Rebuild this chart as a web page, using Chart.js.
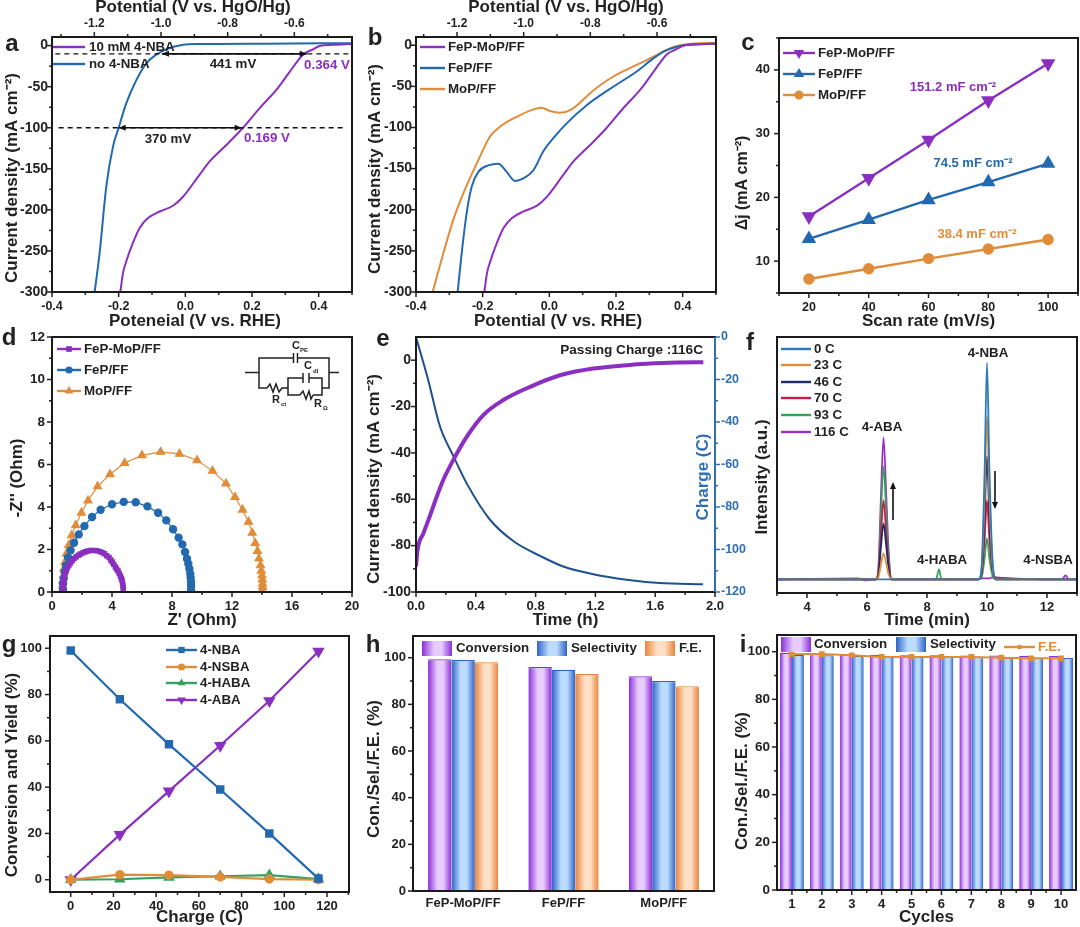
<!DOCTYPE html>
<html>
<head>
<meta charset="utf-8">
<script src="https://cdn.jsdelivr.net/npm/chart.js@4"></script>
<style>
html, body { margin: 0; background: #fff; width: 1080px; height: 927px; overflow: hidden; }
canvas { position: absolute; }
</style>
</head>
<body>
<script>
const PURPLE = '#8a2fc0', BLUE = '#2269b0', ORANGE = '#e08c38', GREEN = '#35a060', INK = '#222';

// a + b: LSV curves, potential vs RHE
const noNbaX = [-0.272,-0.257,-0.237,-0.217,-0.2,-0.177,-0.147,-0.117,-0.087,-0.057,-0.007,0.04,0.24,0.5];
const noNbaY = [-300,-252,-171,-123,-100,-70,-42,-21.5,-11,-4.5,1,2,2.4,3];
const femopX = [-0.195,-0.187,-0.179,-0.157,-0.137,-0.112,-0.077,-0.037,-0.007,0.043,0.073,0.123,0.173,0.223,0.273,0.313,0.353,0.383,0.403,0.443,0.5];
const femopY = [-300,-277,-265,-240,-222,-210,-202,-195,-184,-157,-141,-121,-100,-76,-54,-32,-11,-4.5,-0.4,1,2];
const fepX = [-0.275,-0.263,-0.248,-0.233,-0.213,-0.183,-0.153,-0.128,-0.103,-0.078,-0.048,-0.018,0.012,0.052,0.112,0.182,0.262,0.312,0.352,0.392,0.432,0.5];
const fepY = [-300,-253,-204,-172,-154,-146,-144,-154,-165,-162,-152,-129,-113,-95,-73,-53,-32,-16,-6,-1,1,1.5];
const mopX = [-0.35,-0.318,-0.288,-0.258,-0.218,-0.178,-0.148,-0.098,-0.048,-0.023,0.002,0.032,0.067,0.132,0.192,0.262,0.312,0.362,0.392,0.432,0.5];
const mopY = [-300,-253,-212,-180,-144,-111,-99,-87,-78,-76,-80,-82,-78,-55,-38,-24,-14,-4,0,2,3];
const dashTopX = [-0.39,0.49], dashTopY = [-10,-10];
const dashBotX = [-0.38,0.48], dashBotY = [-100,-100];
const gapTopX = [-0.07,0.364], gapBotX = [-0.2,0.169];
const lsvXMajor = [-0.4,-0.2,0,0.2,0.4], lsvXMinor = [-0.3,-0.1,0.1,0.3,0.5];
const hgoMajor = [-1.2,-1,-0.8,-0.6], hgoMinor = [-1.3,-1.1,-0.9,-0.7,-0.5];
const lsvYMajor = [0,-50,-100,-150,-200,-250,-300], lsvYMinor = [-25,-75,-125,-175,-225,-275];

// c: scan rate
const scanRates = [20,40,60,80,100];
const cdlFemop = [17,23,29,35.2,41];
const cdlFep = [13.5,16.5,19.6,22.4,25.3];
const cdlMop = [7.2,8.8,10.4,11.9,13.4];

// d: Nyquist
const eisFemopX = [0.73,0.73,0.75,0.8,0.84,0.89,0.96,1.04,1.12,1.22,1.34,1.47,1.6,1.76,1.9,2.07,2.22,2.4,2.58,2.78,2.98,3.18,3.34,3.5,3.65,3.8,3.92,4.02,4.12,4.22,4.31,4.4,4.48,4.56,4.62,4.67,4.7,4.73,4.75,4.76];
const eisFemopY = [0.16,0.3,0.44,0.67,0.79,0.91,1.03,1.15,1.26,1.36,1.47,1.57,1.65,1.73,1.79,1.85,1.89,1.93,1.95,1.96,1.94,1.91,1.86,1.8,1.71,1.62,1.51,1.41,1.3,1.18,1.08,0.99,0.87,0.75,0.65,0.55,0.43,0.31,0.19,0.08];
const eisFepX = [0.73,0.73,0.78,0.84,0.93,1.07,1.24,1.47,1.78,2.16,2.67,3.24,4,4.78,5.58,6.36,7.07,7.62,8.07,8.44,8.69,8.87,9,9.09,9.16,9.22,9.24,9.27,9.27,9.27];
const eisFepY = [0.11,0.39,0.63,0.94,1.25,1.62,1.96,2.32,2.71,3.1,3.53,3.87,4.13,4.24,4.22,4.03,3.73,3.37,2.95,2.56,2.24,1.88,1.57,1.33,1.1,0.86,0.67,0.47,0.28,0.08];
const eisMopX = [0.71,0.71,0.73,0.76,0.8,0.87,0.96,1.11,1.31,1.58,1.96,2.4,3.04,3.87,4.84,6,7.24,8.5,9.67,10.7,11.6,12.2,12.7,13.1,13.35,13.55,13.7,13.8,13.9,13.95,14,14.02,14.04,14.04,14.04,14.02];
const eisMopY = [0.08,0.31,0.55,0.78,1.1,1.41,1.8,2.2,2.67,3.14,3.73,4.3,4.97,5.54,6.07,6.43,6.59,6.5,6.2,5.7,5.1,4.47,3.87,3.3,2.78,2.3,1.93,1.57,1.25,1,0.78,0.58,0.39,0.24,0.08,0];

// e: electrolysis
const jTime = [0,0.01,0.05,0.094,0.138,0.183,0.25,0.34,0.45,0.584,0.763,0.963,1.186,1.454,1.744,1.922];
const jValues = [-89,-82,-74.6,-67,-59,-51.6,-43,-33,-23.7,-17.2,-11.5,-6.5,-3.6,-1.9,-1,-0.9];
const qTime = [0,0.082,0.16,0.25,0.34,0.495,0.66,0.83,0.985,1.186,1.41,1.63,1.92];
const qValues = [0,-20.3,-42,-56,-69,-86,-96.5,-103,-108,-111.6,-114.2,-115.8,-116.4];

// f: chromatograms (a.u.)
const hplcTime = [3,5.7,5.9,6.3,6.38,6.46,6.55,6.64,6.72,6.82,7.05,8.3,8.4,8.48,9.72,9.82,9.92,10,10.08,10.18,10.3,12.5,12.62,12.72,13];
const hplc0C   = [0,0,0,0,0,0,0,0,0,0,0,0,0,0,0,13,108,217,110,22,0,0,0,0,0];
const hplc23C  = [0,0,0,0,2,14,26,16,5,0,0,0,0,0,0,10,82,163,83,16,0,0,0,0,0];
const hplc46C  = [0,0,0,0,4,31,56,34,11,0,0,0,0,0,0,7,62,123,62,12,0,0,0,0,0];
const hplc70C  = [0,0,0,0,6,43,79,47,16,0,0,0,0,0,0,5,40,79,40,10,2,0,0,0,0];
const hplc93C  = [0,0,0,0,9,62,113,68,23,0,0,0,10,0,0,2,21,41,21,4,0,0,0,0,0];
const hplc116C = [0,1,-1,0,11,78,142,85,28,0,0,0,0,0,0,1,1,1,1,2,1,0,4,0,0];

// g: conversion and yield
const chargeC = [0,23,46,70,93,116];
const yieldNba = [99,78,58.5,39,20,0.5];
const yieldNsba = [0,2.2,2,1.2,0.3,0];
const yieldHaba = [0,0.2,1,1.5,2,0.3];
const yieldAba = [0,19.5,38.3,58,77.3,98.7];

// h: catalysts
const catalysts = ['FeP-MoP/FF','FeP/FF','MoP/FF'];
const catConversion = [99.3,96,92];
const catSelectivity = [99,94.8,90];
const catFE = [98,93,87.8];

// i: cycling
const cycles = ['1','2','3','4','5','6','7','8','9','10'];
const cycConversion = [99.5,99,98.7,98.6,98.5,98.5,98.4,98.4,98.3,98.2];
const cycSelectivity = [98.7,98.5,98.3,98.2,98.2,98,97.8,97.5,97.5,97.4];
const cycFE = [99,99,98.5,97.8,97.8,97.8,97.8,97.5,97.2,97.2];

Chart.defaults.font.family = '"Liberation Sans", Arial, sans-serif';
Chart.defaults.font.weight = 'bold';
Chart.defaults.color = INK;

const LEFT = 55, RIGHT = 35, MARGIN = 12, TOP = 40, BOTTOM = 40, TITLE = 17;
const xy = (xs, ys) => xs.map((x, i) => ({ x, y: ys[i] }));
const curve = (xs, ys, color, width, extra) => Object.assign({
  data: xy(xs, ys), borderColor: color, backgroundColor: color, borderWidth: width, pointRadius: 0, cubicInterpolationMode: 'monotone'
}, extra);
const marked = (xs, ys, color, width, style, radius, extra) => curve(xs, ys, color, width, Object.assign({
  pointStyle: style, pointRadius: radius, tension: 0, cubicInterpolationMode: 'default'
}, extra));

function barFill(edge, light, nBars, catPct) {
  return ctx => {
    const xs = ctx.chart.scales.x;
    if (!xs || ctx.dataIndex === undefined) return edge;
    const bw = (xs.width / xs.getLabels().length) * catPct / nBars;
    const cx = xs.getPixelForValue(ctx.dataIndex) + (ctx.datasetIndex - (nBars - 1) / 2) * bw;
    if (!isFinite(cx) || !isFinite(bw)) return edge;
    const g = ctx.chart.ctx.createLinearGradient(cx - bw / 2, 0, cx + bw / 2, 0);
    g.addColorStop(0, edge); g.addColorStop(0.4, light); g.addColorStop(0.65, light); g.addColorStop(1, edge);
    return g;
  };
}

function axis(pos, o) {
  const horizontal = pos === 'top' || pos === 'bottom';
  const cfg = {
    position: pos, type: o.labels ? 'category' : 'linear',
    grid: { display: false, tickLength: 0, drawTicks: false }, border: { display: false },
    ticks: {
      display: o.hideLabels !== true, autoSkip: false, maxRotation: 0, minRotation: 0,
      padding: o.pad === undefined ? 7 : o.pad, color: o.color || INK,
      font: { size: o.size || 12.5, weight: 'bold' }
    },
    afterFit(s) {
      if (horizontal) s.height = pos === 'top' ? TOP : BOTTOM; else s.width = pos === 'left' ? LEFT : RIGHT;
      s.paddingLeft = s.paddingRight = s.paddingTop = s.paddingBottom = 0;
    }
  };
  if (o.labels) {
    cfg.labels = o.labels;
  } else {
    cfg.min = o.min; cfg.max = o.max;
    const major = o.major || [], minor = o.minor || [];
    cfg.afterBuildTicks = s => { s.ticks = major.concat(minor).map(value => ({ value })); };
    cfg.ticks.callback = v => major.includes(v) ? v.toFixed(o.dec || 0) : '';
  }
  if (o.title) {
    const lh = TITLE * 1.2;
    cfg.title = { display: true, text: o.title, color: INK, font: { size: TITLE, weight: 'bold' } };
    cfg.title.padding = { top: 0, bottom: o.edge - o.titleAt - lh / 2 };
  }
  return cfg;
}

function text(ctx, s, x, y, o = {}) {
  ctx.save();
  ctx.fillStyle = o.color || INK;
  ctx.font = `bold ${o.size || 13.3}px "Liberation Sans", Arial, sans-serif`;
  ctx.textAlign = o.align || 'left';
  ctx.textBaseline = 'middle';
  ctx.translate(x, y);
  if (o.rot) ctx.rotate(o.rot);
  ctx.fillText(s, 0, 0);
  ctx.restore();
}

// the y titles sit off-centre from their axes in the figure, so they are placed by hand
const yTitle = (ctx, s, x, y, size) => text(ctx, s, x, y, { size: size || TITLE, align: 'center', rot: -Math.PI / 2 });

function marker(ctx, style, x, y, r, color) {
  ctx.save();
  ctx.fillStyle = color;
  ctx.beginPath();
  if (style === 'circle') ctx.arc(x, y, r, 0, Math.PI * 2);
  else if (style === 'rect') { const h = r * 0.71; ctx.rect(x - h, y - h, h * 2, h * 2); }
  else {
    const d = style === 'down' ? -1 : 1;
    ctx.moveTo(x, y - d * r); ctx.lineTo(x + r * 0.87, y + d * r * 0.5); ctx.lineTo(x - r * 0.87, y + d * r * 0.5); ctx.closePath();
  }
  ctx.fill();
  ctx.restore();
}

function seg(ctx, pts, color, width) {
  ctx.save();
  ctx.strokeStyle = color || INK; ctx.lineWidth = width || 1.5;
  ctx.beginPath();
  pts.forEach((p, i) => i ? ctx.lineTo(p[0], p[1]) : ctx.moveTo(p[0], p[1]));
  ctx.stroke();
  ctx.restore();
}

function legendLine(ctx, x0, x1, y, color, label, tx, style, r, textColor) {
  seg(ctx, [[x0, y], [x1, y]], color, 2.4);
  if (style) marker(ctx, style, (x0 + x1) / 2, y, r, color);
  text(ctx, label, tx, y, { color: textColor });
}

function swatch(ctx, x0, x1, y0, y1, edge, light) {
  const g = ctx.createLinearGradient(x0, 0, x1, 0);
  g.addColorStop(0, edge); g.addColorStop(0.4, light); g.addColorStop(0.65, light); g.addColorStop(1, edge);
  ctx.fillStyle = g;
  ctx.fillRect(x0, y0, x1 - x0, y1 - y0);
}

function arrowHead(ctx, x, y, dx, dy) {
  ctx.save();
  ctx.fillStyle = '#111';
  ctx.beginPath();
  ctx.moveTo(x, y);
  ctx.lineTo(x - dx * 7 - dy * 3, y - dy * 7 - dx * 3);
  ctx.lineTo(x - dx * 7 + dy * 3, y - dy * 7 + dx * 3);
  ctx.closePath();
  ctx.fill();
  ctx.restore();
}

// one panel = one chart, its plot area pinned to [l, t, r, b] on the page
function panel(box, o) {
  const [l, t, r, b] = box;
  const hasTop = !!o.scales.xTop, hasRight = !!o.scales.yR;
  const x0 = l - LEFT, y0 = t - TOP;
  const w = r - l + LEFT + (hasRight ? RIGHT : MARGIN), h = b - t + TOP + BOTTOM;
  const cv = document.createElement('canvas');
  cv.width = w; cv.height = h;
  cv.style.left = x0 + 'px'; cv.style.top = y0 + 'px';
  cv.style.width = w + 'px'; cv.style.height = h + 'px';
  document.body.appendChild(cv);

  const deco = {
    id: 'deco',
    afterDraw(chart) {
      const ctx = chart.ctx, a = chart.chartArea;
      Object.values(chart.scales).forEach(s => {
        if (o.noTicks && o.noTicks.includes(s.id)) return;
        const color = s.options.ticks.color;
        s.ticks.forEach((tick, i) => {
          const p = s.getPixelForTick(i), len = (tick.label === '' || tick.label === undefined) ? 3 : 5;
          if (s.position === 'left') seg(ctx, [[a.left - len, p], [a.left, p]], color);
          if (s.position === 'right') seg(ctx, [[a.right + len, p], [a.right, p]], color);
          if (s.position === 'bottom') seg(ctx, [[p, a.bottom + len], [p, a.bottom]], color);
          if (s.position === 'top') seg(ctx, [[p, a.top - len], [p, a.top]], color);
        });
      });
      ctx.save();
      ctx.strokeStyle = '#1a1a1a'; ctx.lineWidth = 2;
      ctx.strokeRect(a.left, a.top, a.right - a.left, a.bottom - a.top);
      ctx.restore();
      ctx.save();
      ctx.translate(-x0, -y0);
      if (o.draw) o.draw(ctx, chart, x0, y0);
      ctx.restore();
    }
  };

  Object.values(o.scales).forEach(s => { s.axis = s.position === 'top' || s.position === 'bottom' ? 'x' : 'y'; });
  return new Chart(cv, {
    type: o.type || 'line',
    data: { labels: o.labels, datasets: o.datasets },
    plugins: [deco],
    options: {
      responsive: false, animation: false, devicePixelRatio: 1,
      layout: { padding: { top: hasTop ? 0 : TOP, right: hasRight ? 0 : MARGIN, left: 0, bottom: 0 } },
      plugins: { legend: { display: false }, tooltip: { enabled: false } },
      scales: o.scales
    }
  });
}

// a
panel([52, 37, 352, 292], {
  datasets: [
    curve(dashTopX, dashTopY, '#111', 1.3, { borderDash: [5, 4] }),
    curve(dashBotX, dashBotY, '#111', 1.3, { borderDash: [5, 4] }),
    curve(gapTopX, dashTopY, '#111', 1.6),
    curve(gapBotX, dashBotY, '#111', 1.6),
    curve(noNbaX, noNbaY, BLUE, 2),
    curve(femopX, femopY, PURPLE, 2)
  ],
  scales: {
    x: axis('bottom', { min: -0.4, max: 0.5, major: lsvXMajor, minor: lsvXMinor, dec: 1 }),
    xTop: axis('top', { min: -1.327, max: -0.427, major: hgoMajor, minor: hgoMinor, dec: 1, pad: 6, size: 12 }),
    y: axis('left', { min: -300, max: 10.5, major: lsvYMajor, minor: lsvYMinor, pad: 4, size: 14 })
  },
  draw(ctx, chart, x0, y0) {
    const sx = chart.scales.x, sy = chart.scales.y;
    const px = v => sx.getPixelForValue(v) + x0, py = v => sy.getPixelForValue(v) + y0;
    arrowHead(ctx, px(gapTopX[0]), py(-10), -1, 0); arrowHead(ctx, px(gapTopX[1]), py(-10), 1, 0);
    arrowHead(ctx, px(gapBotX[0]), py(-100), -1, 0); arrowHead(ctx, px(gapBotX[1]), py(-100), 1, 0);
    text(ctx, 'a', 12, 44, { size: 24, align: 'center' });
    text(ctx, 'Potential (V vs. HgO/Hg)', 193, 7, { size: TITLE, align: 'center' });
    text(ctx, 'Poteneial (V vs. RHE)', 195, 321, { size: TITLE, align: 'center' });
    yTitle(ctx, 'Current density (mA cm⁻²)', 12, 178);
    legendLine(ctx, 53, 85, 47, PURPLE, '10 mM 4-NBA', 89);
    legendLine(ctx, 53, 85, 64, BLUE, 'no 4-NBA', 89);
    text(ctx, '441 mV', 233, 64, { align: 'center' });
    text(ctx, '370 mV', 168, 139, { align: 'center' });
    text(ctx, '0.364 V', 327, 65, { align: 'center', color: PURPLE });
    text(ctx, '0.169 V', 267, 138, { align: 'center', color: PURPLE });
  }
});

// b
panel([416, 37, 716, 292], {
  datasets: [curve(femopX, femopY, PURPLE, 2), curve(fepX, fepY, BLUE, 2), curve(mopX, mopY, ORANGE, 2)],
  scales: {
    x: axis('bottom', { min: -0.4, max: 0.5, major: lsvXMajor, minor: lsvXMinor, dec: 1 }),
    xTop: axis('top', { min: -1.323, max: -0.423, major: hgoMajor, minor: hgoMinor, dec: 1, pad: 6, size: 12 }),
    y: axis('left', { min: -300, max: 10, major: lsvYMajor, minor: lsvYMinor, pad: 4, size: 14 })
  },
  draw(ctx) {
    text(ctx, 'b', 375, 38, { size: 24, align: 'center' });
    text(ctx, 'Potential (V vs. HgO/Hg)', 566, 7, { size: TITLE, align: 'center' });
    text(ctx, 'Potential (V vs. RHE)', 558, 321, { size: TITLE, align: 'center' });
    yTitle(ctx, 'Current density (mA cm⁻²)', 375, 169);
    legendLine(ctx, 420, 445, 47, PURPLE, 'FeP-MoP/FF', 448);
    legendLine(ctx, 420, 445, 68, BLUE, 'FeP/FF', 448);
    legendLine(ctx, 420, 445, 89, ORANGE, 'MoP/FF', 448);
  }
});

// c
panel([779, 38, 1078, 293], {
  datasets: [
    marked(scanRates, cdlFemop, PURPLE, 2.4, 'triangle', 6, { pointRotation: 180 }),
    marked(scanRates, cdlFep, BLUE, 2.4, 'triangle', 6),
    marked(scanRates, cdlMop, ORANGE, 2.4, 'circle', 4.5)
  ],
  scales: {
    x: axis('bottom', { min: 10, max: 110, major: [20,40,60,80,100], minor: [10,30,50,70,90,110], title: 'Scan rate (mV/s)', titleAt: 321, edge: 333 }),
    y: axis('left', { min: 5, max: 45, major: [10,20,30,40], minor: [5,15,25,35,45], pad: 9, size: 13 })
  },
  draw(ctx) {
    text(ctx, 'c', 748, 43, { size: 24, align: 'center' });
    yTitle(ctx, 'Δj (mA cm⁻²)', 743, 183, 16);
    legendLine(ctx, 783, 815, 53, PURPLE, 'FeP-MoP/FF', 818, 'down', 6);
    legendLine(ctx, 783, 815, 74, BLUE, 'FeP/FF', 818, 'up', 6);
    legendLine(ctx, 783, 815, 95, ORANGE, 'MoP/FF', 818, 'circle', 4.5);
    text(ctx, '151.2 mF cm⁻²', 953, 87, { align: 'center', color: PURPLE, size: 13 });
    text(ctx, '74.5 mF cm⁻²', 973, 163, { align: 'center', color: BLUE, size: 13 });
    text(ctx, '38.4 mF cm⁻²', 977, 234, { align: 'center', color: ORANGE, size: 13 });
  }
});

// d
panel([52, 337, 352, 592], {
  datasets: [
    marked(eisFemopX, eisFemopY, PURPLE, 1.2, 'rect', 3),
    marked(eisFepX, eisFepY, BLUE, 1.2, 'circle', 3.6),
    marked(eisMopX, eisMopY, ORANGE, 1.2, 'triangle', 4.6)
  ],
  scales: {
    x: axis('bottom', { min: 0, max: 20, major: [0,4,8,12,16,20], minor: [2,6,10,14,18], size: 13, title: "Z' (Ohm)", titleAt: 620, edge: 632 }),
    y: axis('left', { min: 0, max: 12, major: [0,2,4,6,8,10,12], minor: [1,3,5,7,9,11], size: 13.5 })
  },
  draw(ctx) {
    text(ctx, 'd', 9, 338, { size: 24, align: 'center' });
    yTitle(ctx, "-Z'' (Ohm)", 17, 478);
    legendLine(ctx, 57, 81, 349, PURPLE, 'FeP-MoP/FF', 84, 'rect', 4);
    legendLine(ctx, 57, 81, 370, BLUE, 'FeP/FF', 84, 'circle', 3.6);
    legendLine(ctx, 57, 81, 391, ORANGE, 'MoP/FF', 84, 'up', 5);
    // equivalent circuit inset
    const c = '#222', W = 1.5;
    seg(ctx, [[245, 372.5], [259, 372.5]], c, W);
    seg(ctx, [[329, 372.5], [339, 372.5]], c, W);
    seg(ctx, [[293.5, 358], [259, 358], [259, 388], [267, 388]], c, W);
    seg(ctx, [[297.5, 358], [329, 358], [329, 388], [322, 388]], c, W);
    seg(ctx, [[293.5, 353], [293.5, 363]], c, W); seg(ctx, [[297.5, 353], [297.5, 363]], c, W);
    seg(ctx, [[267, 388], [270, 384], [273, 392], [276, 384], [279, 392], [282, 388], [288, 388]], c, W);
    seg(ctx, [[303, 378], [288, 378], [288, 395], [300, 395]], c, W);
    seg(ctx, [[309, 378], [322, 378], [322, 395], [313, 395]], c, W);
    seg(ctx, [[303, 373], [303, 383]], c, W); seg(ctx, [[309, 373], [309, 383]], c, W);
    seg(ctx, [[300, 395], [303, 391], [306, 399], [309, 391], [311, 399], [313, 395]], c, W);
    text(ctx, 'C', 292, 346, { size: 11 }); text(ctx, 'PE', 300, 350, { size: 6 });
    text(ctx, 'C', 304, 366, { size: 11 }); text(ctx, 'dl', 313, 371, { size: 6 });
    text(ctx, 'R', 272, 400, { size: 11 }); text(ctx, 'ct', 281, 404, { size: 6 });
    text(ctx, 'R', 314, 404, { size: 11 }); text(ctx, 'Ω', 323, 408, { size: 6 });
  }
});

// e
panel([416, 337, 715, 592], {
  datasets: [
    curve(jTime, jValues, PURPLE, 4),
    curve(qTime, qValues, '#1e4f8e', 2, { yAxisID: 'yR' })
  ],
  scales: {
    x: axis('bottom', { min: 0, max: 2, major: [0,0.4,0.8,1.2,1.6,2], minor: [0.2,0.6,1,1.4,1.8], dec: 1, size: 13, title: 'Time (h)', titleAt: 620, edge: 632 }),
    y: axis('left', { min: -100, max: 10, major: [0,-20,-40,-60,-80,-100], minor: [-10,-30,-50,-70,-90], pad: 5, size: 14 }),
    yR: axis('right', { min: -120, max: 0, major: [0,-20,-40,-60,-80,-100,-120], minor: [-10,-30,-50,-70,-90,-110], color: '#2f6fb5', pad: 6, size: 12.5 })
  },
  draw(ctx) {
    seg(ctx, [[715, 337], [715, 592]], '#2f6fb5', 2);
    text(ctx, 'e', 383, 339, { size: 24, align: 'center' });
    yTitle(ctx, 'Current density (mA cm⁻²)', 374, 479);
    text(ctx, 'Passing Charge :116C', 703, 350, { align: 'right', size: 13.6 });
    text(ctx, 'Charge (C)', 703, 477, { align: 'center', color: '#2f6fb5', size: TITLE, rot: -Math.PI / 2 });
  }
});

// f
const hplcColors = ['#2c7bb8', '#e0903c', '#1d2b6a', '#c2204c', '#37a05a', '#9a30cc'];
panel([777, 337, 1077, 593], {
  datasets: [hplc0C, hplc23C, hplc46C, hplc70C, hplc93C, hplc116C].map((s, i) => curve(hplcTime, s, hplcColors[i], 1.8)),
  noTicks: ['y'],
  scales: {
    x: axis('bottom', { min: 3, max: 13, major: [4,6,8,10,12], minor: [3,5,7,9,11,13], size: 13, title: 'Time (min)', titleAt: 620, edge: 633 }),
    y: axis('left', { min: -13.7, max: 242.6, major: [], hideLabels: true })
  },
  draw(ctx) {
    text(ctx, 'f', 750, 343, { size: 24, align: 'center' });
    yTitle(ctx, 'Intensity (a.u.)', 762, 477);
    ['0 C', '23 C', '46 C', '70 C', '93 C', '116 C'].forEach((s, i) => {
      legendLine(ctx, 781, 811, [349, 365, 382, 398, 415, 432][i], hplcColors[i], s, 814);
    });
    text(ctx, '4-ABA', 882, 427, { align: 'center' });
    text(ctx, '4-NBA', 988, 353, { align: 'center' });
    text(ctx, '4-HABA', 942, 560, { align: 'center' });
    text(ctx, '4-NSBA', 1048, 560, { align: 'center' });
    seg(ctx, [[893, 520], [893, 488]], '#111', 1.6); arrowHead(ctx, 893, 482, 0, -1);
    seg(ctx, [[995, 471], [995, 503]], '#111', 1.6); arrowHead(ctx, 995, 509, 0, 1);
  }
});

// g
panel([50, 636, 349, 892], {
  datasets: [
    marked(chargeC, yieldNba, BLUE, 2.2, 'rect', 4.4),
    marked(chargeC, yieldNsba, ORANGE, 2.2, 'circle', 3.6),
    marked(chargeC, yieldHaba, GREEN, 2.2, 'triangle', 4.5),
    marked(chargeC, yieldAba, PURPLE, 2.2, 'triangle', 5, { pointRotation: 180 })
  ],
  scales: {
    x: axis('bottom', { min: -9.7, max: 130.3, major: [0,20,40,60,80,100,120], minor: [10,30,50,70,90,110,130], size: 13, title: 'Charge (C)', titleAt: 917, edge: 932 }),
    y: axis('left', { min: -5.3, max: 105.3, major: [0,20,40,60,80,100], minor: [10,30,50,70,90], pad: 8, size: 13 })
  },
  draw(ctx) {
    text(ctx, 'g', 9, 645, { size: 24, align: 'center' });
    yTitle(ctx, 'Conversion and Yield (%)', 12, 775);
    legendLine(ctx, 166, 197, 650, BLUE, '4-NBA', 200, 'rect', 4.4);
    legendLine(ctx, 166, 197, 667, ORANGE, '4-NSBA', 200, 'circle', 3.6);
    legendLine(ctx, 166, 197, 683, GREEN, '4-HABA', 200, 'up', 4.5);
    legendLine(ctx, 166, 197, 700, PURPLE, '4-ABA', 200, 'down', 5);
  }
});

// h + i bars
const FILL = {
  conv: ['#8a2fd8', '#e8ccff'],
  sel: ['#2f62c8', '#bcdcff'],
  fe: ['#e8843a', '#ffdfc6']
};
const barSet = (values, key, n, pct) => ({
  data: values, backgroundColor: barFill(FILL[key][0], FILL[key][1], n, pct),
  borderColor: FILL[key][0], borderWidth: { top: 1.2, left: 0, right: 0, bottom: 0 }, borderSkipped: false,
  categoryPercentage: pct, barPercentage: 1, order: 1
});

panel([413, 636, 714, 891], {
  type: 'bar',
  labels: catalysts,
  noTicks: ['x'],
  datasets: [barSet(catConversion, 'conv', 3, 0.7), barSet(catSelectivity, 'sel', 3, 0.7), barSet(catFE, 'fe', 3, 0.7)],
  scales: {
    x: axis('bottom', { labels: catalysts, pad: 5, size: 13 }),
    y: axis('left', { min: 0, max: 109.3, major: [0,20,40,60,80,100], minor: [10,30,50,70,90], size: 13 })
  },
  draw(ctx) {
    text(ctx, 'h', 373, 645, { size: 24, align: 'center' });
    yTitle(ctx, 'Con./Sel./F.E. (%)', 374, 769);
    swatch(ctx, 422, 452, 641, 656, FILL.conv[0], FILL.conv[1]); text(ctx, 'Conversion', 456, 648);
    swatch(ctx, 537, 567, 641, 656, FILL.sel[0], FILL.sel[1]); text(ctx, 'Selectivity', 571, 648);
    swatch(ctx, 645, 675, 641, 656, FILL.fe[0], FILL.fe[1]); text(ctx, 'F.E.', 679, 648);
  }
});

panel([777, 635, 1076, 890], {
  type: 'bar',
  labels: cycles,
  datasets: [
    barSet(cycConversion, 'conv', 2, 0.8),
    barSet(cycSelectivity, 'sel', 2, 0.8),
    { type: 'line', data: cycFE, borderColor: ORANGE, backgroundColor: ORANGE, borderWidth: 2, pointStyle: 'rect', pointRadius: 2.6, tension: 0, order: 0 }
  ],
  scales: {
    x: axis('bottom', { labels: cycles, size: 13, title: 'Cycles', titleAt: 917, edge: 930 }),
    y: axis('left', { min: 0, max: 107, major: [0,20,40,60,80,100], minor: [10,30,50,70,90], size: 13.5 })
  },
  draw(ctx, chart, x0, y0) {
    // minor ticks between the cycle numbers
    const s = chart.scales.x, a = chart.chartArea;
    cycles.slice(0, -1).forEach((_, i) => {
      const p = (s.getPixelForValue(i) + s.getPixelForValue(i + 1)) / 2 + x0;
      seg(ctx, [[p, a.bottom + y0], [p, a.bottom + y0 + 3]], INK);
    });
    text(ctx, 'i', 743, 645, { size: 24, align: 'center' });
    yTitle(ctx, 'Con./Sel./F.E. (%)', 742, 781);
    swatch(ctx, 781, 811, 637, 652, FILL.conv[0], FILL.conv[1]); text(ctx, 'Conversion', 814, 644);
    swatch(ctx, 896, 926, 637, 652, FILL.sel[0], FILL.sel[1]); text(ctx, 'Selectivity', 930, 644);
    legendLine(ctx, 1004, 1035, 647, ORANGE, 'F.E.', 1038, 'rect', 3, ORANGE);
  }
});
</script>
</body>
</html>
